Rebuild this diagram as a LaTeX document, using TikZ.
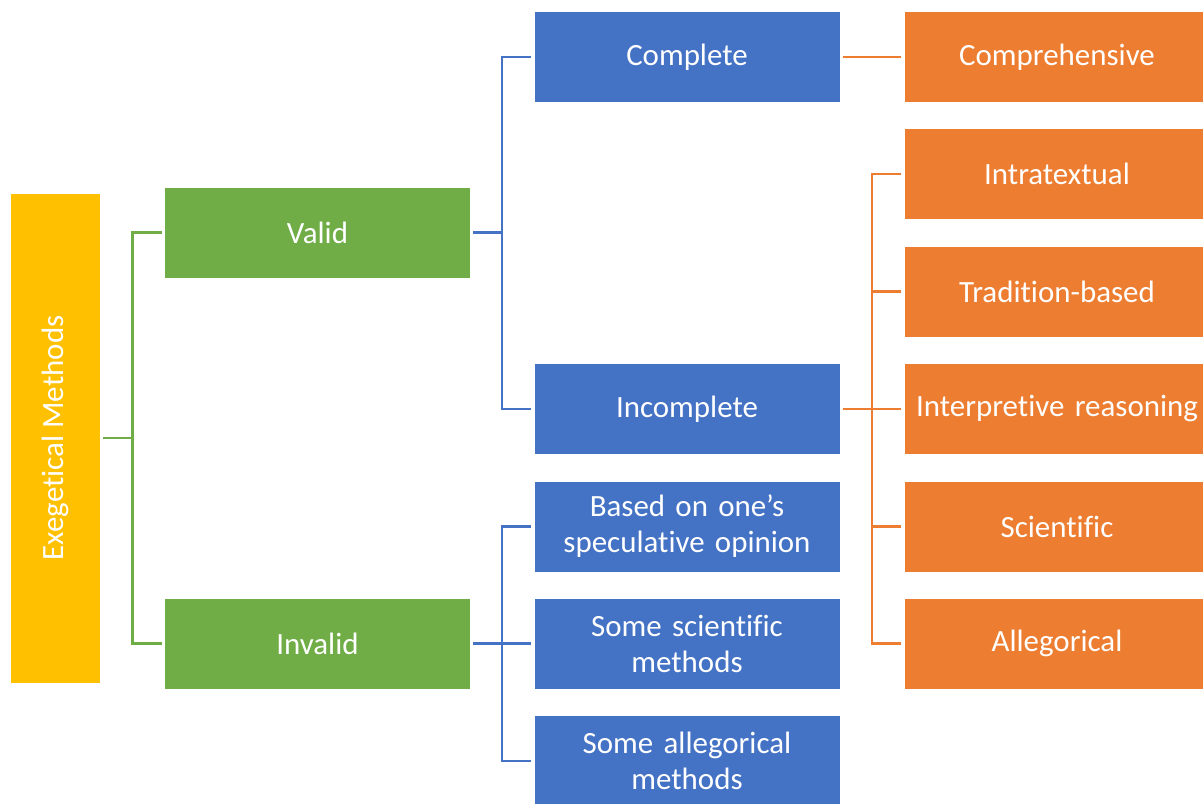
\documentclass[tikz,border=0pt]{standalone}
\usepackage{fontspec}
\setmainfont{Carlito}[Ligatures=NoCommon]
\usetikzlibrary{positioning,calc}
\definecolor{exYellow}{HTML}{FFC000}
\definecolor{exGreen}{HTML}{70AD47}
\definecolor{exBlue}{HTML}{4472C4}
\definecolor{exOrange}{HTML}{ED7D31}

\begin{document}
\begin{tikzpicture}[x=0.2mm,y=-0.2mm,box/.style={draw=white,line width=0.4pt,minimum width=6.12cm,minimum height=1.82cm,text width=6.1cm,inner sep=0pt,outer sep=1.5pt,align=center,text=white,font=\fontsize{17.6}{20.5}\selectfont},conn/.style={line width=1.4pt}]
    \useasboundingbox (0,0) rectangle (1203,803);
    \clip (0,0) rectangle (1203,803);
    \node[draw=white,line width=0.4pt,fill=exYellow,minimum width=1.8cm,minimum height=9.8cm,inner sep=0pt,outer sep=1.5pt,text=white,font=\fontsize{17.6}{20.5}\selectfont] (root) at (55,438) {\rotatebox{90}{Exegetical Methods}};
    \node[box,fill=exGreen] (valid) at (317.5,232.5) {Valid};
    \node[box,fill=exGreen] (invalid) at (317.5,643.5) {Invalid};
    \node[box,fill=exBlue] (complete) at (687,57) {Complete};
    \node[box,fill=exBlue] (incomplete) at (687,409) {Incomplete};
    \node[box,fill=exBlue] (opinion) at (687,526.5) {Based on one’s\\speculative opinion};
    \node[box,fill=exBlue] (somesci) at (687,643.5) {Some scientific\\methods};
    \node[box,fill=exBlue] (someall) at (687,761) {Some allegorical\\methods};
    \node[box,fill=exOrange] (compr) at (1057,57) {Comprehensive};
    \node[box,fill=exOrange] (intra) at (1057,174) {Intratextual};
    \node[box,fill=exOrange] (trad) at (1057,291.5) {Tradition-based};
    \node[box,fill=exOrange] (interp) at (1057,409) {Interpretive reasoning};
    \node[box,fill=exOrange] (scien) at (1057,526.5) {Scientific};
    \node[box,fill=exOrange] (alleg) at (1057,643.5) {Allegorical};
    \coordinate (j0) at (132.5,438);
    \coordinate (j1) at (502,232.5);
    \coordinate (j2) at (502,643.5);
    \coordinate (j3) at (872,409);
    \draw[conn,exGreen] (root.east)--(j0);
    \draw[conn,exGreen] (valid.west)-|(j0)|-(invalid.west);
    \draw[conn,exBlue] (valid.east)--(j1);
    \draw[conn,exBlue] (complete.west)-|(j1)|-(incomplete.west);
    \draw[conn,exBlue] (invalid.east)--(somesci.west);
    \draw[conn,exBlue] (opinion.west)-|(j2)|-(someall.west);
    \draw[conn,exOrange] (complete.east)--(compr.west);
    \draw[conn,exOrange] (incomplete.east)--(interp.west);
    \draw[conn,exOrange] (intra.west)-|(j3)|-(alleg.west);
    \foreach \n in {trad,scien}
      \draw[conn,exOrange] (\n.west)--(\n.west-|j3);
  \end{tikzpicture}
\end{document}
